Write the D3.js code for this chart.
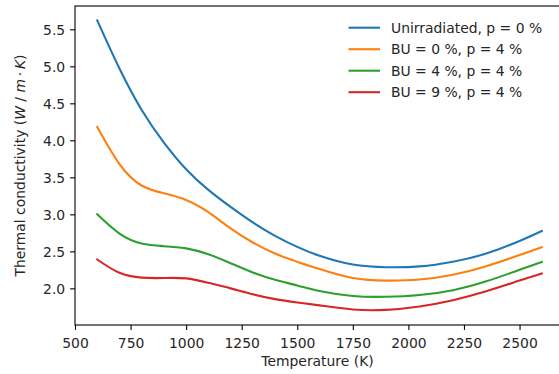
<!DOCTYPE html>
<html>
<head>
<meta charset="utf-8">
<script src="https://cdn.jsdelivr.net/npm/d3@7"></script>
<style>
    body { margin: 0; background: #fff; }
    svg { display: block; font-family: "DejaVu Sans", sans-serif; }
</style>
</head>
<body>
<svg id="chart" width="559" height="374"></svg>
<script>
// temperatures (K)
const temperature = [600, 700, 800, 900, 1000, 1100, 1200, 1300, 1400, 1500, 1600, 1750, 1900, 2050, 2200, 2350, 2500, 2600]

const unirradiated = [5.62, 4.97, 4.41, 3.97, 3.61, 3.33, 3.10, 2.89, 2.71, 2.56, 2.44, 2.322, 2.286, 2.297, 2.36, 2.47, 2.64, 2.775]
const bu0 = [4.18, 3.68, 3.39, 3.285, 3.195, 3.03, 2.81, 2.62, 2.47, 2.36, 2.26, 2.14, 2.105, 2.12, 2.185, 2.30, 2.45, 2.556]
const bu4 = [3.00, 2.74, 2.605, 2.57, 2.54, 2.46, 2.34, 2.215, 2.115, 2.04, 1.965, 1.897, 1.886, 1.91, 1.975, 2.095, 2.25, 2.355]
const bu9 = [2.39, 2.21, 2.145, 2.14, 2.135, 2.075, 2.00, 1.92, 1.855, 1.81, 1.77, 1.715, 1.71, 1.755, 1.84, 1.96, 2.105, 2.20]

const seriesNames = ['Unirradiated, p = 0 %', 'BU = 0 %, p = 4 %', 'BU = 4 %, p = 4 %', 'BU = 9 %, p = 4 %']
const seriesValues = [unirradiated, bu0, bu4, bu9]
const colors = ['#1f77b4', '#ff7f0e', '#2ca02c', '#d62728']

const xTicks = [500, 750, 1000, 1250, 1500, 1750, 2000, 2250, 2500]
const yTicks = [2.0, 2.5, 3.0, 3.5, 4.0, 4.5, 5.0, 5.5]

const fontSize = 13.9
const plot = { left: 75, right: 564, top: 6, bottom: 325 }

const svg = d3.select('#chart')

const x = d3.scaleLinear().domain([500, 2700]).range([plot.left, plot.right])
const y = d3.scaleLinear().domain([1.505, 5.815]).range([plot.bottom, plot.top])

// lines
const line = d3.line()
    .x(d => x(d[0]))
    .y(d => y(d[1]))
    .curve(d3.curveNatural)

seriesValues.forEach((vals, i) => {
    svg.append('path')
        .datum(temperature.map((t, j) => [t, vals[j]]))
        .attr('fill', 'none')
        .attr('stroke', colors[i])
        .attr('stroke-width', 2.1)
        .attr('stroke-linecap', 'square')
        .attr('d', line)
})

// axes
const xAxis = d3.axisBottom(x).tickValues(xTicks).tickSize(4.9).tickPadding(4.9).tickFormat(d3.format('d'))
const yAxis = d3.axisLeft(y).tickValues(yTicks).tickSize(4.9).tickPadding(4.9).tickFormat(d3.format('.1f'))

const gx = svg.append('g').attr('transform', `translate(0,${plot.bottom})`).call(xAxis)
const gy = svg.append('g').attr('transform', `translate(${plot.left},0)`).call(yAxis)

;[gx, gy].forEach(g => {
    g.select('.domain').remove()
    g.selectAll('.tick line').attr('stroke', '#000').attr('stroke-width', 1.1)
    g.selectAll('.tick text')
        .attr('fill', '#262626')
        .style('font-size', fontSize + 'px')
        .style('font-family', '"DejaVu Sans", sans-serif')
})
gx.selectAll('.tick text').attr('dy', null).attr('y', 22.5)
gy.selectAll('.tick text').attr('dy', '0.36em')

// spines
svg.append('rect')
    .attr('x', plot.left)
    .attr('y', plot.top)
    .attr('width', plot.right - plot.left)
    .attr('height', plot.bottom - plot.top)
    .attr('fill', 'none')
    .attr('stroke', '#000')
    .attr('stroke-width', 1.1)

// axis labels
svg.append('text')
    .attr('x', (plot.left + plot.right) / 2 - 2)
    .attr('y', 366)
    .attr('text-anchor', 'middle')
    .attr('fill', '#262626')
    .style('font-size', fontSize + 'px')
    .text('Temperature (K)')

const yl = svg.append('text')
    .attr('transform', `translate(25,${(plot.top + plot.bottom) / 2}) rotate(-90)`)
    .attr('text-anchor', 'middle')
    .attr('fill', '#262626')
    .style('font-size', fontSize + 'px')
yl.append('tspan').text('Thermal conductivity (')
yl.append('tspan').attr('font-style', 'italic').text('W')
yl.append('tspan').text(' / ')
yl.append('tspan').attr('font-style', 'italic').text('m')
yl.append('tspan').text('\u2009\u00b7\u2009')
yl.append('tspan').attr('font-style', 'italic').text('K')
yl.append('tspan').text(')')

// legend
const legend = svg.append('g')
seriesNames.forEach((name, i) => {
    const ly = 27.7 + i * 21.5
    legend.append('line')
        .attr('x1', 348.5).attr('x2', 380)
        .attr('y1', ly).attr('y2', ly)
        .attr('stroke', colors[i])
        .attr('stroke-width', 2.1)
    legend.append('text')
        .attr('x', 391)
        .attr('y', ly)
        .attr('dy', '0.36em')
        .attr('fill', '#262626')
        .style('font-size', fontSize + 'px')
        .text(name)
})
</script>
</body>
</html>
